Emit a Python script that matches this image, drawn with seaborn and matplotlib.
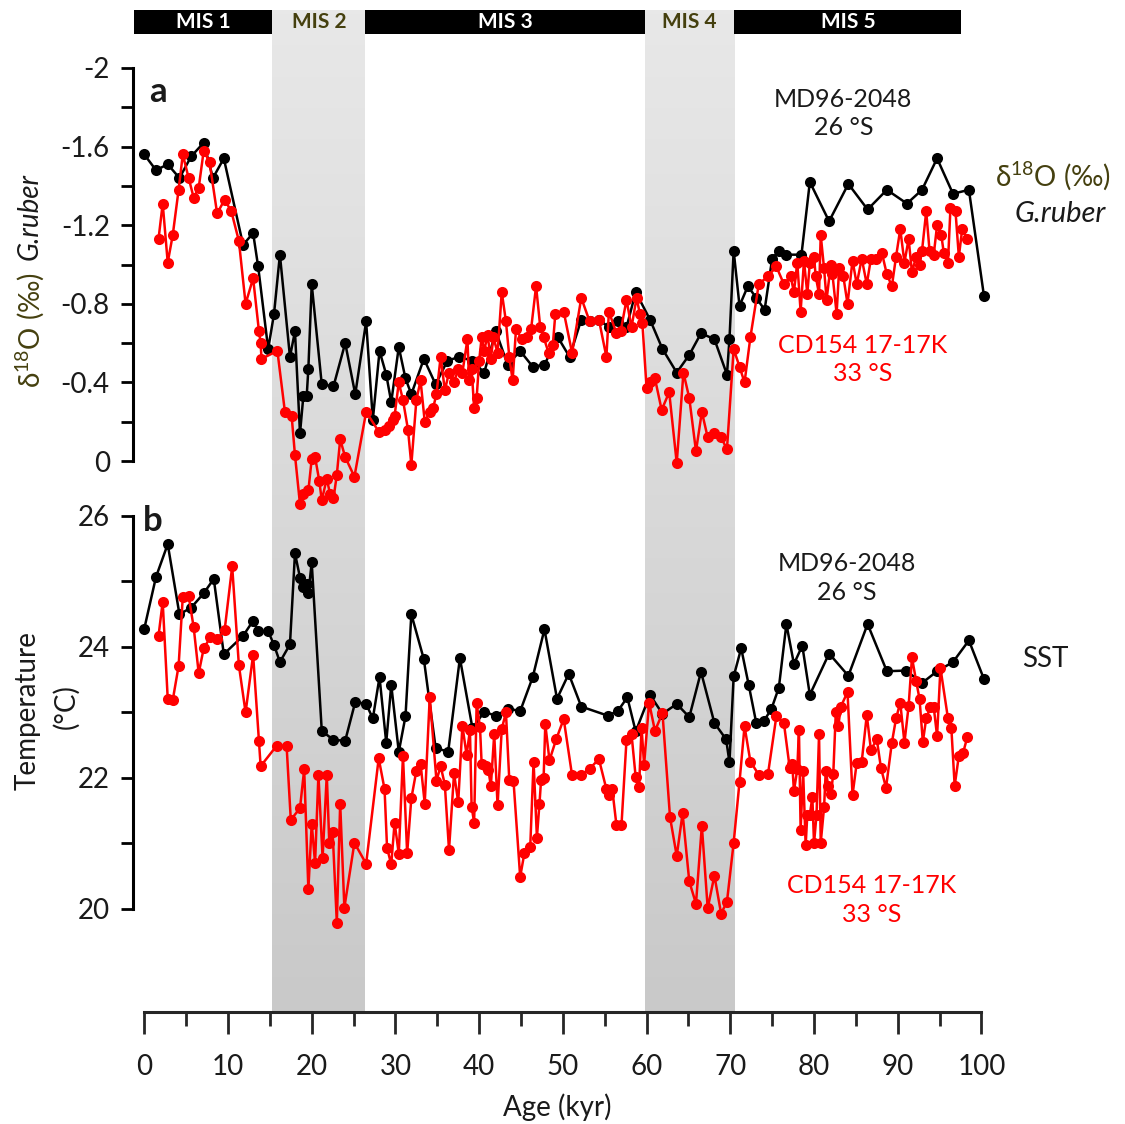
import numpy as np
import pandas as pd
import matplotlib
matplotlib.use("Agg")
import matplotlib.pyplot as plt
from matplotlib.colors import LinearSegmentedColormap
import seaborn as sns

# ---------------- data ----------------
# MD96-2048 (26 S) planktonic d18O, G. ruber
md_d18o_age = [0, 1.4, 2.8, 4.2, 5.6, 7.1, 8.2, 9.5, 11.8, 13.0, 13.6, 14.8, 15.5, 16.2, 17.4, 18.0,
               18.6, 19.0, 19.4, 19.6, 20.0, 21.2, 22.6, 24.0, 25.2, 26.5, 27.3, 28.1, 28.9, 29.5,
               30.4, 31.2, 31.9, 33.4, 34.8, 36.2, 37.6, 39.2, 40.6, 42.0, 43.4, 44.9, 46.4, 47.8,
               49.4, 50.8, 52.2, 53.2, 54.3, 55.5, 56.6, 57.6, 58.7, 60.4, 61.9, 63.6, 65.1, 66.5,
               68.1, 69.6, 69.9, 70.4, 71.1, 72.1, 73.1, 74.1, 75.0, 75.8, 76.7, 78.5, 79.5, 81.8,
               84.1, 86.4, 88.7, 91.1, 92.9, 94.7, 96.6, 98.5, 100.3]
md_d18o = [-1.56, -1.48, -1.51, -1.44, -1.55, -1.62, -1.44, -1.54, -1.10, -1.16, -0.99, -0.57, -0.75,
           -1.05, -0.53, -0.66, -0.14, -0.33, -0.33, -0.47, -0.90, -0.39, -0.38, -0.60, -0.34, -0.71,
           -0.21, -0.56, -0.44, -0.30, -0.58, -0.42, -0.34, -0.52, -0.39, -0.51, -0.53, -0.51, -0.45,
           -0.66, -0.49, -0.56, -0.48, -0.49, -0.63, -0.53, -0.72, -0.71, -0.72, -0.68, -0.71, -0.68,
           -0.86, -0.72, -0.57, -0.45, -0.54, -0.65, -0.62, -0.44, -0.62, -1.07, -0.79, -0.89, -0.83,
           -0.77, -1.03, -1.07, -1.05, -1.05, -1.42, -1.22, -1.41, -1.28, -1.38, -1.31, -1.38, -1.54,
           -1.36, -1.38, -0.84]

# CD154 17-17K (33 S) planktonic d18O, G. ruber
cd_d18o_age = [1.7, 2.2, 2.8, 3.4, 4.1, 4.6, 5.3, 5.9, 6.5, 7.1, 7.8, 8.7, 9.6, 10.4, 11.3, 12.1, 13.0,
               13.7, 13.9, 14.0, 15.9, 16.8, 17.6, 18.0, 18.6, 19.0, 19.6, 20.0, 20.4, 20.9, 21.2,
               21.8, 22.2, 22.6, 23.0, 23.4, 24.0, 25.1, 26.5, 28.0, 28.7, 29.2, 29.7, 29.9, 30.4,
               30.9, 31.5, 31.9, 32.5, 33.0, 33.5, 34.1, 34.5, 34.9, 35.4, 35.9, 36.4, 37.0, 37.5,
               38.0, 38.6, 38.8, 39.1, 39.4, 39.7, 40.0, 40.3, 40.6, 41.0, 41.4, 41.7, 42.2, 42.7,
               43.2, 43.6, 44.0, 44.4, 45.1, 45.7, 46.2, 46.8, 47.3, 47.7, 48.3, 48.8, 49.1, 50.1,
               51.1, 52.2, 53.2, 54.3, 55.2, 55.5, 56.4, 56.9, 57.6, 58.2, 58.8, 59.2, 59.5, 60.0,
               60.4, 61.0, 61.8, 62.7, 63.6, 64.4, 65.1, 65.9, 66.6, 67.3, 68.1, 68.9, 69.6, 70.4,
               71.1, 71.7, 72.4, 73.4, 74.5, 75.5, 76.4, 77.2, 77.6, 78.0, 78.4, 78.8, 79.2, 79.5,
               80.0, 80.2, 80.6, 80.8, 81.2, 81.5, 82.0, 82.2, 82.7, 83.0, 83.5, 84.0, 84.6, 85.1,
               85.7, 86.3, 86.8, 87.4, 88.1, 88.7, 89.3, 89.8, 90.3, 90.8, 91.3, 91.7, 92.2, 92.6,
               92.9, 93.4, 93.8, 94.3, 94.7, 95.2, 95.5, 96.0, 96.3, 96.9, 97.3, 97.7, 98.3]
cd_d18o = [-1.13, -1.31, -1.01, -1.15, -1.38, -1.56, -1.44, -1.34, -1.39, -1.58, -1.52, -1.26, -1.33,
           -1.27, -1.12, -0.80, -0.93, -0.66, -0.60, -0.52, -0.56, -0.25, -0.23, -0.03, 0.22, 0.17,
           0.15, -0.01, -0.02, 0.10, 0.20, 0.09, 0.17, 0.19, 0.07, -0.11, -0.02, 0.08, -0.25, -0.15,
           -0.16, -0.18, -0.21, -0.23, -0.40, -0.31, -0.16, 0.02, -0.31, -0.41, -0.20, -0.25, -0.27,
           -0.34, -0.53, -0.36, -0.45, -0.40, -0.47, -0.45, -0.62, -0.41, -0.47, -0.27, -0.32, -0.51,
           -0.63, -0.56, -0.64, -0.52, -0.63, -0.55, -0.86, -0.71, -0.53, -0.41, -0.67, -0.62, -0.63,
           -0.67, -0.89, -0.68, -0.63, -0.55, -0.59, -0.75, -0.76, -0.55, -0.83, -0.71, -0.72, -0.53,
           -0.76, -0.65, -0.66, -0.82, -0.68, -0.83, -0.75, -0.70, -0.37, -0.40, -0.42, -0.26, -0.35,
           0.01, -0.45, -0.32, -0.05, -0.25, -0.12, -0.14, -0.12, -0.06, -0.57, -0.48, -0.40, -0.63,
           -0.90, -0.94, -0.99, -0.90, -0.94, -0.86, -1.01, -0.76, -1.02, -0.85, -1.01, -1.04, -0.94,
           -0.85, -1.15, -0.98, -0.82, -1.00, -0.95, -0.75, -0.98, -0.94, -0.80, -1.02, -0.90, -1.03,
           -0.90, -1.03, -1.03, -1.06, -0.95, -0.89, -1.04, -1.18, -1.01, -1.13, -0.96, -1.04, -1.00,
           -1.07, -1.27, -1.07, -1.05, -1.20, -1.15, -1.06, -1.01, -1.29, -1.27, -1.04, -1.18, -1.13]

# MD96-2048 sea surface temperature (deg C)
md_sst_age = [0, 1.4, 2.8, 4.2, 5.6, 7.1, 8.3, 9.5, 11.8, 13.0, 13.6, 14.8, 15.5, 16.2, 17.4, 18.0,
              18.6, 19.0, 19.4, 19.6, 20.0, 21.2, 22.6, 24.0, 25.2, 26.5, 27.3, 28.1, 28.9, 29.5,
              30.4, 31.2, 31.9, 33.4, 34.8, 36.3, 37.7, 39.2, 40.6, 42.0, 43.5, 44.9, 46.4, 47.8,
              49.3, 50.7, 52.2, 55.4, 56.6, 57.7, 58.7, 60.4, 61.9, 63.6, 65.1, 66.5, 68.1, 69.5,
              69.9, 70.4, 71.3, 72.2, 73.1, 74.0, 74.9, 75.8, 76.7, 77.6, 78.6, 79.5, 81.8, 84.1,
              86.4, 88.7, 91.0, 92.9, 94.7, 96.6, 98.5, 100.3]
md_sst = [24.28, 25.07, 25.57, 24.50, 24.60, 24.82, 25.04, 23.89, 24.17, 24.40, 24.24, 24.24, 24.03,
          23.77, 24.04, 25.43, 25.06, 24.92, 24.96, 24.82, 25.29, 22.72, 22.58, 22.57, 23.16, 23.13,
          22.91, 23.54, 22.54, 23.42, 22.40, 22.94, 24.50, 23.81, 22.46, 22.40, 23.83, 22.76, 23.01,
          22.95, 23.06, 23.02, 23.54, 24.27, 23.21, 23.59, 23.09, 22.95, 23.03, 23.23, 22.71, 23.27,
          22.98, 23.13, 22.93, 23.62, 22.84, 22.59, 22.24, 23.55, 23.98, 23.42, 22.84, 22.87, 23.05,
          23.38, 24.35, 23.74, 24.02, 23.27, 23.90, 23.56, 24.35, 23.63, 23.64, 23.45, 23.63, 23.77,
          24.10, 23.51]

# CD154 17-17K sea surface temperature (deg C)
cd_sst_age = [1.7, 2.2, 2.8, 3.4, 4.1, 4.6, 5.3, 5.9, 6.5, 7.1, 7.9, 8.7, 9.6, 10.5, 11.3, 12.1, 13.0,
              13.7, 13.9, 15.8, 17.0, 17.5, 18.6, 19.1, 19.6, 20.0, 20.4, 20.8, 21.3, 21.8, 22.1,
              22.5, 23.0, 23.4, 23.9, 25.1, 26.5, 28.0, 28.7, 29.0, 29.5, 29.9, 30.4, 30.9, 31.4,
              31.9, 32.5, 33.0, 33.5, 34.1, 34.9, 35.4, 35.9, 36.4, 37.0, 37.5, 38.0, 38.5, 38.9,
              39.1, 39.4, 39.7, 40.1, 40.3, 40.8, 41.1, 41.4, 41.8, 42.2, 42.7, 43.2, 43.6, 44.1,
              44.9, 45.4, 46.1, 46.5, 46.9, 47.2, 47.4, 47.7, 47.9, 48.4, 49.2, 50.1, 51.1, 52.2,
              53.2, 54.3, 55.2, 55.5, 55.9, 56.4, 57.0, 57.6, 58.2, 58.7, 59.1, 59.4, 59.7, 60.3,
              61.0, 61.9, 62.8, 63.6, 64.3, 65.1, 65.9, 66.6, 67.3, 68.1, 68.9, 69.6, 70.4, 71.1,
              71.7, 72.4, 73.4, 74.5, 75.5, 76.4, 77.1, 77.4, 77.6, 78.0, 78.2, 78.4, 78.7, 79.0,
              79.2, 79.5, 79.8, 80.0, 80.3, 80.6, 80.8, 81.2, 81.4, 81.7, 82.0, 82.3, 82.6, 82.9,
              83.2, 84.0, 84.6, 85.1, 85.7, 86.3, 86.8, 87.5, 88.0, 88.6, 89.3, 89.8, 90.3, 90.8,
              91.3, 91.7, 92.2, 92.6, 93.0, 93.4, 93.9, 94.3, 94.7, 95.1, 96.0, 96.4, 96.8, 97.3,
              97.8, 98.3]
cd_sst = [24.17, 24.69, 23.21, 23.19, 23.71, 24.77, 24.78, 24.30, 23.60, 23.98, 24.15, 24.12, 24.26,
          25.23, 23.72, 23.00, 23.88, 22.56, 22.18, 22.49, 22.49, 21.36, 21.54, 22.13, 20.30, 21.30,
          20.70, 22.05, 20.78, 22.05, 21.00, 21.17, 19.79, 21.61, 20.02, 21.01, 20.69, 22.30, 21.83,
          20.93, 20.68, 21.32, 20.84, 22.34, 20.85, 21.69, 22.11, 22.22, 21.61, 23.24, 21.96, 22.18,
          21.90, 20.90, 22.07, 21.63, 22.80, 22.35, 22.73, 21.56, 21.32, 23.14, 22.78, 22.21, 22.19,
          22.12, 21.88, 22.67, 21.58, 22.75, 23.00, 21.97, 21.96, 20.49, 20.85, 20.94, 22.25, 21.09,
          21.60, 21.97, 22.00, 22.82, 22.27, 22.59, 22.90, 22.04, 22.05, 22.14, 22.29, 21.83, 21.74,
          21.83, 21.28, 21.28, 22.58, 22.67, 22.01, 21.86, 22.77, 22.20, 23.15, 22.72, 22.99, 21.40,
          20.81, 21.46, 20.42, 20.08, 21.27, 20.01, 20.51, 19.93, 20.11, 21.01, 21.94, 22.79, 22.25,
          22.05, 22.06, 22.94, 22.84, 22.15, 22.21, 21.80, 22.13, 22.73, 21.21, 22.10, 20.97, 21.44,
          21.44, 21.71, 21.00, 21.44, 22.67, 21.01, 21.55, 22.11, 21.88, 21.75, 22.06, 23.00, 22.79,
          23.09, 23.31, 21.74, 22.23, 22.25, 22.96, 22.43, 22.59, 22.15, 21.85, 22.54, 22.91, 23.15,
          22.54, 23.10, 23.84, 23.48, 23.21, 22.55, 22.91, 23.08, 23.08, 22.64, 23.68, 22.91, 22.77,
          21.88, 22.34, 22.38, 22.62]

# Marine isotope stages (kyr)
mis_labels = ["MIS 1", "MIS 2", "MIS 3", "MIS 4", "MIS 5"]
mis_start = [-1.2, 15.3, 26.4, 59.8, 70.5]
mis_end = [15.3, 26.4, 59.8, 70.5, 97.6]
mis_glacial = [False, True, False, True, False]

x_ticks = list(range(0, 101, 10))
d18o_ticks = [-2.0, -1.6, -1.2, -0.8, -0.4, 0.0]
d18o_ticklabels = ["-2", "-1.6", "-1.2", "-0.8", "-0.4", "0"]
sst_ticks = [20, 22, 24, 26]

# ---------------- style ----------------
sns.set_style("ticks")
plt.rcParams["font.family"] = ["Lato", "DejaVu Sans"]
plt.rcParams["mathtext.fontset"] = "custom"
plt.rcParams["mathtext.rm"] = "Lato"
TXT = "#1a1a1a"
OLIVE = "#45400f"
RED = "#ff0000"

W, H = 1125, 1124
fig = plt.figure(figsize=(W / 100, H / 100), dpi=100)

XLIM = (-1.3, 102.0)
left = 133.4 / W
width = (998.2 - 133.4) / W


def frac_y(px):
    return 1 - px / H


# background axes holding the stage bands and stage bar
ax_bg = fig.add_axes([left, frac_y(1012), width, 1002 / H])
ax_bg.set_zorder(0)
cmap = LinearSegmentedColormap.from_list("band", ["#c9c9c9", "#e8e8e8"])
grad = np.linspace(0, 1, 256).reshape(-1, 1)
bar_bottom = (1012 - 34) / 1002
for lab, s, e, glac in zip(mis_labels, mis_start, mis_end, mis_glacial):
    if glac:
        ax_bg.imshow(grad, extent=(s, e, 0, 1), origin="lower", aspect="auto", cmap=cmap,
                     vmin=0, vmax=1, zorder=0)
        col = OLIVE
    else:
        ax_bg.bar(s, 1 - bar_bottom, width=e - s, bottom=bar_bottom, align="edge",
                  color="black", linewidth=0, zorder=1)
        col = "white"
    ax_bg.text((s + e) / 2, (1012 - 22) / 1002, lab, ha="center", va="center",
               fontsize=15, fontweight="bold", color=col, zorder=2)
ax_bg.set_xlim(*XLIM)
ax_bg.set_ylim(0, 1)
ax_bg.axis("off")

# top panel: d18O
ax1 = fig.add_axes([left, frac_y(512), width, 450 / H])
ax1.set_zorder(2)
ax1.patch.set_alpha(0)
# bottom panel: SST
ax2 = fig.add_axes([left, frac_y(1012), width, 500 / H])
ax2.set_zorder(1)
ax2.patch.set_alpha(0)

line_kw = dict(marker="o", markersize=8, linewidth=1.8, markeredgewidth=0,
               sort=False, estimator=None, legend=False)

sns.lineplot(data=pd.DataFrame({"age": md_d18o_age, "v": md_d18o}), x="age", y="v",
             ax=ax1, color="black", zorder=3, **line_kw)
sns.lineplot(data=pd.DataFrame({"age": cd_d18o_age, "v": cd_d18o}), x="age", y="v",
             ax=ax1, color=RED, zorder=4, **line_kw)
sns.lineplot(data=pd.DataFrame({"age": md_sst_age, "v": md_sst}), x="age", y="v",
             ax=ax2, color="black", zorder=3, **line_kw)
sns.lineplot(data=pd.DataFrame({"age": cd_sst_age, "v": cd_sst}), x="age", y="v",
             ax=ax2, color=RED, zorder=4, **line_kw)

for ax in (ax1, ax2):
    ax.set_xlim(*XLIM)
    ax.set_xlabel("")
    ax.set_ylabel("")
    for sp in ("top", "right"):
        ax.spines[sp].set_visible(False)
    ax.spines["left"].set_linewidth(2.2)
    ax.spines["left"].set_color("black")
    ax.tick_params(axis="y", which="both", direction="out", length=9, width=2,
                   color="black", labelsize=20, labelcolor=TXT, pad=8)

# top panel axes
ax1.set_ylim(0.2595, -2.0305)
ax1.spines["left"].set_bounds(-2, 0)
ax1.spines["bottom"].set_visible(False)
ax1.set_yticks(d18o_ticks)
ax1.set_yticklabels(d18o_ticklabels)
ax1.set_yticks(np.arange(-1.8, 0, 0.4), minor=True)
ax1.tick_params(axis="x", which="both", bottom=False, labelbottom=False)

# bottom panel axes
ax2.set_ylim(18.427, 26.061)
ax2.spines["left"].set_bounds(20, 26)
ax2.set_yticks(sst_ticks)
ax2.set_yticks([21, 23, 25], minor=True)
ax2.spines["bottom"].set_bounds(0, 100)
ax2.spines["bottom"].set_linewidth(2.2)
ax2.set_xticks(x_ticks)
ax2.set_xticks(np.arange(5, 100, 10), minor=True)
ax2.tick_params(axis="x", which="major", direction="out", length=16, width=2,
                labelsize=20, labelcolor=TXT, pad=14)
ax2.tick_params(axis="x", which="minor", direction="out", length=10, width=2)

# panel letters
ax1.text(1.6, -1.878, "a", fontsize=25, fontweight="bold", color=TXT, ha="center", va="center")
ax2.text(1.0, 25.92, "b", fontsize=25, fontweight="bold", color=TXT, ha="center", va="center")

# site annotations
ax1.text(83.5, -1.768, "MD96-2048\n26 °S", fontsize=18, color=TXT, ha="center", va="center",
         linespacing=1.3)
ax1.text(85.8, -0.517, "CD154 17-17K\n33 °S", fontsize=18, color=RED, ha="center", va="center",
         linespacing=1.3)
ax2.text(83.9, 25.05, "MD96-2048\n26 °S", fontsize=18, color=TXT, ha="center", va="center",
         linespacing=1.3)
ax2.text(86.9, 20.14, "CD154 17-17K\n33 °S", fontsize=18, color=RED, ha="center", va="center",
         linespacing=1.3)

# right-side series labels
ax1.text(108.5, -1.45, r"δ$^{\mathregular{18}}$O (‰)", fontsize=20, color=OLIVE,
         ha="center", va="center", clip_on=False)
ax1.text(109.4, -1.257, "G.ruber", fontsize=21, style="italic", color=TXT,
         ha="center", va="center", clip_on=False)
ax2.text(107.6, 23.82, "SST", fontsize=20, color=TXT, ha="center", va="center", clip_on=False)

# axis titles
fig.text(30 / W, frac_y(330), r"δ$^{\mathregular{18}}$O (‰)", rotation=90, fontsize=20,
         color=OLIVE, ha="center", va="center")
fig.text(30 / W, frac_y(216), "G.ruber", rotation=90, fontsize=20, style="italic",
         color=TXT, ha="center", va="center")
fig.text(28 / W, frac_y(710), "Temperature", rotation=90, fontsize=20, color=TXT,
         ha="center", va="center")
fig.text(66 / W, frac_y(707), "(°C)", rotation=90, fontsize=20, color=TXT,
         ha="center", va="center")
fig.text(557 / W, frac_y(1107), "Age (kyr)", fontsize=20, color=TXT, ha="center", va="center")

fig.savefig("out.png", dpi=100)
